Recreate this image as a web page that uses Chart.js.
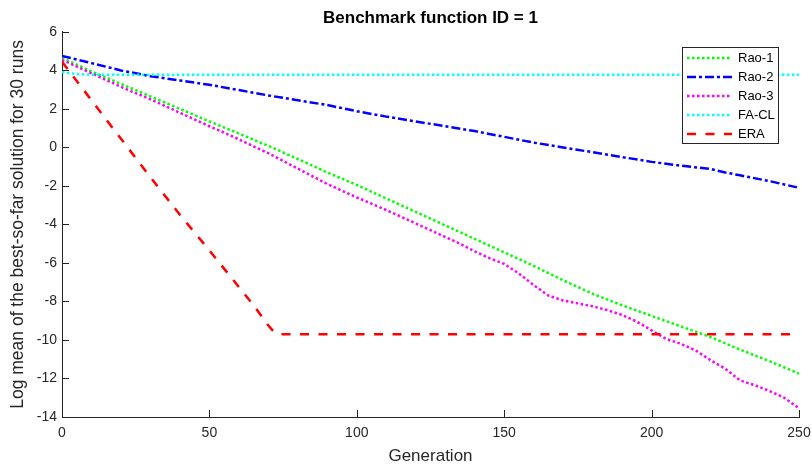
<!DOCTYPE html>
<html>
<head>
<meta charset="utf-8">
<title>Benchmark function ID = 1</title>
<script src="https://cdn.jsdelivr.net/npm/chart.js@4.4.0/dist/chart.umd.min.js"></script>
<style>
  html, body { margin: 0; padding: 0; background: #fff; }
  canvas { display: block; }
</style>
</head>
<body>
<canvas id="convChart" width="812" height="465"></canvas>
<script>
// Series labels (legend order)
const seriesNames = ['Rao-1', 'Rao-2', 'Rao-3', 'FA-CL', 'ERA'];

// Rao-1: generations / log mean values
const rao1Gen = [0, 10, 20, 30, 40, 50, 60, 70, 80, 90, 100, 110, 120, 130, 140, 150, 160, 170, 180, 190, 200, 210, 220, 230, 240, 250];
const rao1Val = [4.65, 3.95, 3.3, 2.65, 2.0, 1.35, 0.72, 0.08, -0.6, -1.3, -1.95, -2.65, -3.35, -4.05, -4.75, -5.45, -6.15, -6.9, -7.6, -8.2, -8.75, -9.3, -9.85, -10.5, -11.1, -11.75];

// Rao-2
const rao2Gen = [0, 10, 20, 30, 40, 50, 60, 70, 80, 90, 100, 110, 120, 130, 140, 150, 160, 170, 180, 190, 200, 210, 220, 225, 230, 240, 250];
const rao2Val = [4.75, 4.38, 4.0, 3.7, 3.48, 3.25, 2.98, 2.7, 2.45, 2.2, 1.88, 1.6, 1.35, 1.1, 0.85, 0.55, 0.25, 0.0, -0.25, -0.5, -0.75, -0.95, -1.12, -1.3, -1.45, -1.75, -2.1];

// Rao-3
const rao3Gen = [0, 5, 10, 15, 20, 25, 30, 35, 40, 45, 50, 55, 60, 65, 70, 75, 80, 85, 90, 95, 100, 105, 110, 115, 120, 125, 130, 135, 140, 145, 150, 155, 160, 165, 170, 175, 180, 185, 190, 195, 200, 205, 210, 215, 220, 225, 230, 235, 240, 245, 250];
const rao3Val = [4.55, 4.2, 3.85, 3.5, 3.15, 2.82, 2.5, 2.15, 1.8, 1.45, 1.1, 0.77, 0.42, 0.05, -0.3, -0.7, -1.1, -1.5, -1.9, -2.25, -2.6, -2.92, -3.25, -3.6, -3.95, -4.3, -4.65, -5.0, -5.4, -5.75, -6.05, -6.55, -7.15, -7.7, -7.95, -8.1, -8.25, -8.45, -8.7, -9.05, -9.5, -9.95, -10.2, -10.55, -11.05, -11.5, -12.1, -12.35, -12.65, -13.0, -13.55];

// FA-CL
const faclGen = [0, 3, 6, 10, 250];
const faclVal = [3.92, 3.85, 3.8, 3.78, 3.78];

// ERA
const eraGen = [0, 10, 20, 30, 40, 50, 60, 65, 70, 72, 74, 250];
const eraVal = [4.45, 2.45, 0.45, -1.55, -3.5, -5.35, -7.25, -8.2, -9.25, -9.6, -9.7, -9.7];

// Axis ticks
const xTicks = [0, 50, 100, 150, 200, 250];
const yTicks = [-14, -12, -10, -8, -6, -4, -2, 0, 2, 4, 6];

const FONT = "'Liberation Sans', Arial, Helvetica, sans-serif";
const AXIS_COLOR = '#262626';

function toPoints(gens, vals) {
  return gens.map((g, i) => ({ x: g, y: vals[i] }));
}

const styles = [
  { color: '#00ff00', dash: [2.5, 2.5] },
  { color: '#0000ff', dash: [9, 3, 3, 3] },
  { color: '#ff00ff', dash: [2.5, 2.5] },
  { color: '#00ffff', dash: [2.5, 2.5] },
  { color: '#ff0000', dash: [9, 9.5] }
];

const seriesData = [
  toPoints(rao1Gen, rao1Val),
  toPoints(rao2Gen, rao2Val),
  toPoints(rao3Gen, rao3Val),
  toPoints(faclGen, faclVal),
  toPoints(eraGen, eraVal)
];

const datasets = seriesNames.map((name, i) => ({
  label: name,
  data: seriesData[i],
  borderColor: styles[i].color,
  backgroundColor: styles[i].color,
  borderDash: styles[i].dash,
  borderWidth: 2.5,
  pointRadius: 0,
  tension: 0,
  fill: false,
  order: seriesNames.length - i   // later series drawn on top, like MATLAB
}));

// Inward tick marks (MATLAB style)
const innerTicks = {
  id: 'innerTicks',
  afterDraw(chart) {
    const ctx = chart.ctx;
    const area = chart.chartArea;
    const xs = chart.scales.x, ys = chart.scales.y;
    ctx.save();
    ctx.strokeStyle = AXIS_COLOR;
    ctx.lineWidth = 1;
    ctx.beginPath();
    xTicks.forEach(v => {
      const px = Math.round(xs.getPixelForValue(v)) + 0.5;
      ctx.moveTo(px, area.bottom);
      ctx.lineTo(px, area.bottom - 7);
    });
    yTicks.forEach(v => {
      const py = Math.round(ys.getPixelForValue(v)) + 0.5;
      ctx.moveTo(area.left, py);
      ctx.lineTo(area.left + 7, py);
    });
    ctx.stroke();
    ctx.restore();
  }
};

// Boxed legend inside the plot, top right
const boxLegend = {
  id: 'boxLegend',
  afterDraw(chart) {
    const ctx = chart.ctx;
    const area = chart.chartArea;
    const right = area.right - 21;
    const top = area.top + 15;
    const w = 96, rowH = 19, h = 96;
    const left = right - w;
    ctx.save();
    ctx.fillStyle = '#fff';
    ctx.fillRect(left, top, w, h);
    ctx.strokeStyle = AXIS_COLOR;
    ctx.lineWidth = 1;
    ctx.strokeRect(Math.round(left) + 0.5, Math.round(top) + 0.5, w, h);
    ctx.font = '13px ' + FONT;
    ctx.textBaseline = 'middle';
    ctx.textAlign = 'left';
    chart.data.datasets.forEach((ds, i) => {
      const y = top + 11 + i * rowH;
      ctx.strokeStyle = ds.borderColor;
      ctx.lineWidth = ds.borderWidth;
      ctx.setLineDash(ds.borderDash);
      ctx.beginPath();
      ctx.moveTo(left + 5, y);
      ctx.lineTo(left + 50, y);
      ctx.stroke();
      ctx.setLineDash([]);
      ctx.fillStyle = '#000';
      ctx.fillText(ds.label, left + 56, y + 0.5);
    });
    ctx.restore();
  }
};

new Chart(document.getElementById('convChart'), {
  type: 'line',
  data: { datasets: datasets },
  plugins: [innerTicks, boxLegend],
  options: {
    responsive: false,
    animation: false,
    devicePixelRatio: 1,
    layout: { padding: { left: 0, right: 13, top: 0, bottom: 0 } },
    plugins: {
      legend: { display: false },
      tooltip: { enabled: false },
      title: {
        display: true,
        text: 'Benchmark function ID = 1',
        color: '#000',
        fullSize: false,
        font: { family: FONT, size: 17, weight: 'bold', lineHeight: 1.2 },
        padding: { top: 8, bottom: 3.5 }
      }
    },
    scales: {
      x: {
        type: 'linear',
        min: 0,
        max: 250,
        grid: { display: false, drawTicks: false },
        border: { display: true, color: AXIS_COLOR, width: 1 },
        ticks: {
          stepSize: 50,
          autoSkip: false,
          maxRotation: 0,
          padding: 8,
          color: AXIS_COLOR,
          font: { family: FONT, size: 14 }
        },
        title: {
          display: true,
          text: 'Generation',
          color: AXIS_COLOR,
          font: { family: FONT, size: 17, lineHeight: 1 },
          padding: { top: 0, bottom: 0 }
        },
        afterFit: scale => {
          scale.height = 48;
          scale.paddingRight = 13;
        }
      },
      y: {
        type: 'linear',
        min: -14,
        max: 6,
        grid: { display: false, drawTicks: false },
        border: { display: true, color: AXIS_COLOR, width: 1 },
        ticks: {
          stepSize: 2,
          autoSkip: false,
          padding: 5,
          color: AXIS_COLOR,
          font: { family: FONT, size: 14 }
        },
        title: {
          display: true,
          text: 'Log mean of the best-so-far solution for 30 runs',
          color: AXIS_COLOR,
          font: { family: FONT, size: 17.5, lineHeight: 1.2 },
          padding: { top: 8, bottom: 0 }
        },
        afterFit: scale => { scale.width = 62; }
      }
    }
  }
});
</script>
</body>
</html>
